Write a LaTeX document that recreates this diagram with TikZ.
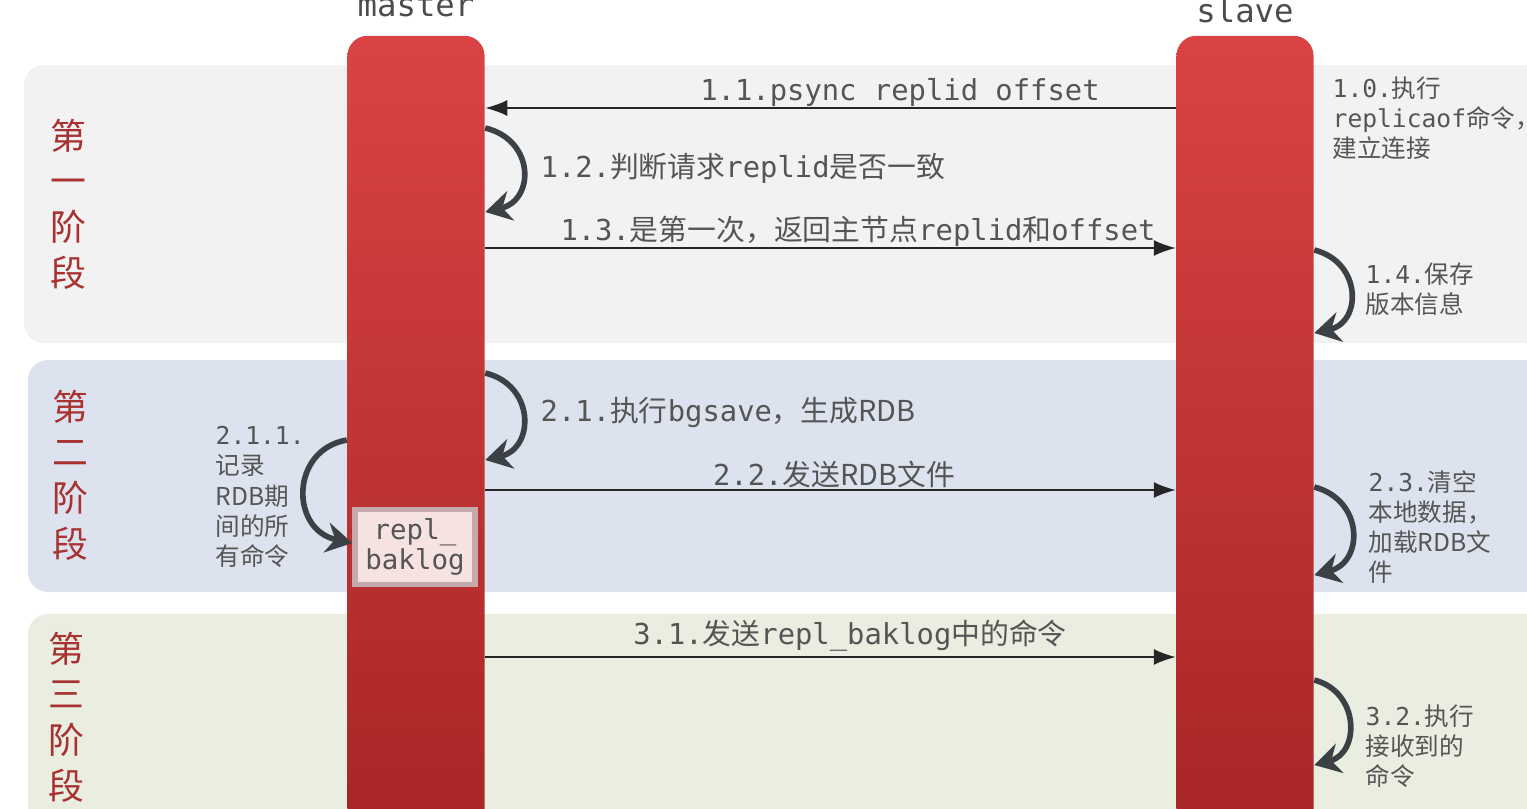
\documentclass[tikz,border=0pt]{standalone}
\usepackage{fontspec}
\setmonofont{DejaVu Sans Mono}
\newfontfamily\cjk{Noto Sans CJK SC}
\newcommand\zh[1]{{\cjk #1}}
\usetikzlibrary{arrows.meta}
\definecolor{bandA}{HTML}{F2F2F2}
\definecolor{bandB}{HTML}{DDE3EE}
\definecolor{bandC}{HTML}{E9EEE0}
\definecolor{barTop}{HTML}{DA4343}
\definecolor{barBot}{HTML}{A42323}
\definecolor{txtGray}{HTML}{555555}
\definecolor{phaseRed}{HTML}{A83232}
\definecolor{loopGray}{HTML}{3C4146}
\definecolor{bufFill}{HTML}{F5E2E1}
\definecolor{bufLine}{HTML}{C4AAAA}

\tikzset{
  band/.style={rounded corners=2mm, draw=none},
  bar/.style={rounded corners=2mm, top color=barTop, bottom color=barBot, draw=none,
    minimum width=1.37cm, minimum height=8.64cm, inner sep=0pt},
  msg/.style={-{Latex[length=2.2mm,width=1.6mm]}, line width=0.5pt, black!85},
  selfloop/.style={-{Stealth[length=2.6mm,width=3mm]}, line width=1.6pt, loopGray},
  lbl/.style={font=\fontsize{8.2}{8.6}\selectfont\ttfamily, text=txtGray, inner sep=0pt},
  side/.style={lbl, font=\fontsize{7}{8.6}\selectfont\ttfamily, anchor=west, align=left},
  role/.style={font=\fontsize{9.2}{11}\selectfont\ttfamily, text=txtGray!90!black, inner sep=0pt, anchor=base},
  phase/.style={font=\fontsize{10.2}{13}\selectfont\cjk, text=phaseRed, align=center, inner sep=0pt},
  buf/.style={fill=bufFill, draw=bufLine, line width=1.5pt, minimum width=1.2cm, minimum height=0.75cm,
    align=center, inner sep=0pt, font=\fontsize{7.8}{8.3}\selectfont\ttfamily, text=txtGray}
}

\begin{document}
\begin{tikzpicture}[x=0.01cm,y=-0.01cm]
\useasboundingbox (0,0) rectangle (1527,809);
\clip (0,0) rectangle (1527,809);

% phases
\fill[band,bandA] (24,65) rectangle (1560,343);
\fill[band,bandB] (28,360) rectangle (1560,592);
\fill[band,bandC] (28,614) rectangle (1560,840);

\node[phase] (ph1) at (68,204) {第\\一\\阶\\段};
\node[phase] (ph2) at (70,475) {第\\二\\阶\\段};
\node[phase] (ph3) at (66,717) {第\\三\\阶\\段};

% master and slave
\node[bar] (master) at (416,468) {};
\node[bar] (slave) at (1245,468) {};
\node[role] (master_t) at (416,17) {master};
\node[role] (slave_t) at (1245,22) {slave};

% phase 1
\draw[msg] (slave.west |- 0,108) -- (master.east |- 0,108);
\node[lbl] (t11) at (900,92) {1.1.psync replid offset};
\node[side] (t10) at (1332,118) {1.0.\zh{执行}\\replicaof\zh{命令，}\\\zh{建立连接}};

\draw[selfloop] (master.east |- 0,128) .. controls (535,140) and (535,200) .. (master.east |- 0,212);
\node[lbl,anchor=west] (t12) at (540,168) {1.2.\zh{判断请求}replid\zh{是否一致}};

\draw[msg] (master.east |- 0,248) -- (slave.west |- 0,248);
\node[lbl] (t13) at (858,231) {1.3.\zh{是第一次，返回主节点}replid\zh{和}offset};

\draw[selfloop] (slave.east |- 0,250) .. controls (1362,262) and (1362,322) .. (slave.east |- 0,333);
\node[side] (t14) at (1365,289) {1.4.\zh{保存}\\\zh{版本信息}};

% phase 2
\draw[selfloop] (master.east |- 0,373) .. controls (535,385) and (535,448) .. (master.east |- 0,460);
\node[lbl,anchor=west] (t21) at (540,412) {2.1.\zh{执行}bgsave\zh{，生成RDB}};

\node[buf] (baklog) at (415,547) {repl\_\\baklog};
\draw[selfloop] (master.west |- 0,440) .. controls (290,450) and (290,530) .. (baklog.west |- 0,543);
\node[side] (t211) at (215,497) {2.1.1.\\\zh{记录}\\\zh{RDB期}\\\zh{间的所}\\\zh{有命令}};

\draw[msg] (master.east |- 0,490) -- (slave.west |- 0,490);
\node[lbl] (t22) at (834,474) {2.2.\zh{发送RDB文件}};

\draw[selfloop] (slave.east |- 0,487) .. controls (1364,500) and (1364,562) .. (slave.east |- 0,575);
\node[side] (t23) at (1368,527) {2.3.\zh{清空}\\\zh{本地数据，}\\\zh{加载RDB文}\\\zh{件}};

% phase 3
\draw[msg] (master.east |- 0,657) -- (slave.west |- 0,657);
\node[lbl] (t31) at (850,636) {3.1.\zh{发送}repl\_baklog\zh{中的命令}};

\draw[selfloop] (slave.east |- 0,680) .. controls (1360,692) and (1360,753) .. (slave.east |- 0,765);
\node[side] (t32) at (1365,746) {3.2.\zh{执行}\\\zh{接收到的}\\\zh{命令}};

\end{tikzpicture}
\end{document}
